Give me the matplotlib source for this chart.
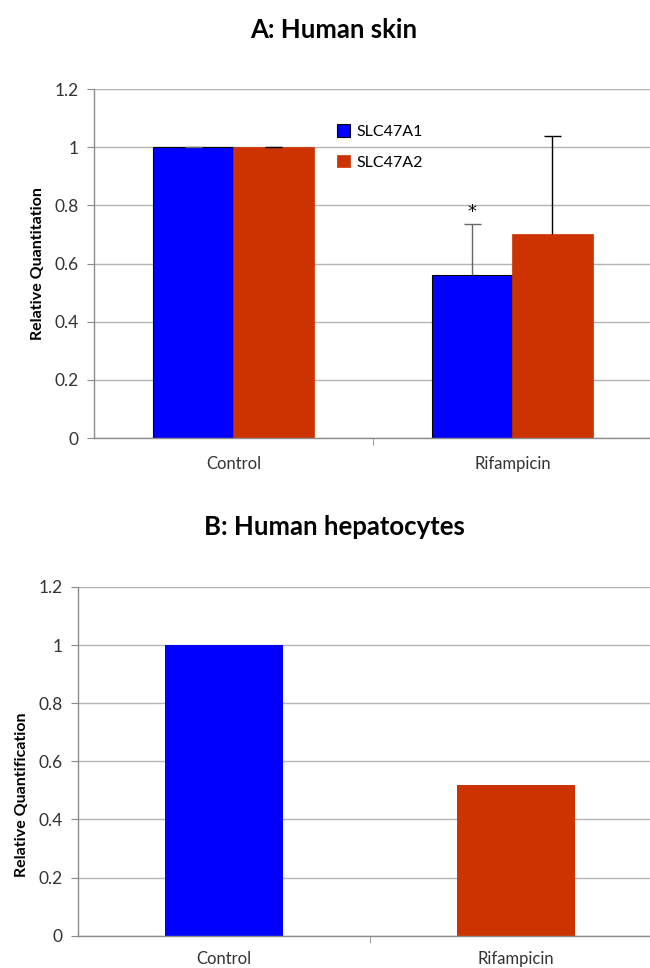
import numpy as np
import matplotlib
matplotlib.use("Agg")
import matplotlib.pyplot as plt

plt.rcParams["font.family"] = ["Lato", "DejaVu Sans"]

# ------------- Data -------------
categories = ["Control", "Rifampicin"]

# A: Human skin
skin_a1 = [1.0, 0.56]
skin_a2 = [1.0, 0.70]
skin_a1_err = [0.0, 0.176]
skin_a2_err = [0.0, 0.34]
series_names = ["SLC47A1", "SLC47A2"]

# B: Human hepatocytes
hep_values = [1.0, 0.52]

yticks = [0, 0.2, 0.4, 0.6, 0.8, 1.0, 1.2]
ytick_labels = ["0", "0.2", "0.4", "0.6", "0.8", "1", "1.2"]

BLUE = "#0000FF"
RED = "#CC3300"
GRID = "#b4b4b4"
SPINE = "#8c8c8c"


def style_axes(ax, xpad=12):
    ax.set_ylim(0, 1.2)
    ax.set_xlim(-0.5, 1.5)
    ax.set_yticks(yticks)
    ax.set_yticklabels(ytick_labels, fontsize=12.5, color="#333333")
    ax.yaxis.grid(True, color=GRID, linewidth=1.0)
    ax.set_axisbelow(True)
    for s in ["top", "right"]:
        ax.spines[s].set_visible(False)
    for s in ["left", "bottom"]:
        ax.spines[s].set_color(SPINE)
        ax.spines[s].set_linewidth(1.0)
    ax.tick_params(axis="y", length=5, color=SPINE, pad=6)
    ax.set_xticks([0, 1])
    ax.set_xticklabels(categories, fontsize=12, color="#333333")
    ax.tick_params(axis="x", which="major", length=0, pad=xpad)
    ax.set_xticks([0.5], minor=True)
    ax.tick_params(axis="x", which="minor", length=5, color=SPINE)


def up_errorbars(ax, xs, ys, errs, color):
    # upper-only error bars, cap at the top only (like Excel "plus")
    xs = np.asarray(xs)
    tops = np.asarray(ys) + np.asarray(errs)
    ax.vlines(xs, ys, tops, color=color, linewidth=1, zorder=3)
    ax.hlines(tops, xs - 0.03, xs + 0.03, color=color, linewidth=1, zorder=3)


fig = plt.figure(figsize=(6.5, 9.68), dpi=100)

# ------------- Panel A -------------
axA = fig.add_axes([0.1446, 0.5475, 0.8584, 0.3605])
x = np.arange(len(categories))
w = 0.287
axA.bar(x - w / 2, skin_a1, w, color=BLUE, edgecolor="black", linewidth=0.8,
        label=series_names[0], zorder=2)
axA.bar(x + w / 2, skin_a2, w, color=RED, edgecolor=RED, linewidth=0.5,
        label=series_names[1], zorder=2)
up_errorbars(axA, x - w / 2, skin_a1, skin_a1_err, "#666666")
up_errorbars(axA, x + w / 2, skin_a2, skin_a2_err, "black")
axA.text(x[1] - w / 2, skin_a1[1] + skin_a1_err[1] + 0.04, "*",
         ha="center", va="center", fontsize=13, family="DejaVu Sans")
style_axes(axA, xpad=13)
axA.legend(loc="upper left", bbox_to_anchor=(0.41, 0.94), frameon=False,
           fontsize=11.5, handlelength=0.8, handleheight=0.8,
           handletextpad=0.4, labelspacing=1.0)
fig.text(38 / 650, 1 - 264 / 968, "Relative Quantitation", rotation=90,
         ha="center", va="center", fontsize=11.5, fontweight="bold")
fig.text(0.514, 1 - 30 / 968, "A: Human skin", ha="center", va="center",
         fontsize=18.5, fontweight="bold")

# ------------- Panel B -------------
axB = fig.add_axes([0.12, 0.0334, 0.898, 0.3602])
axB.bar(x, hep_values, 0.404, color=[BLUE, RED], zorder=2)
style_axes(axB, xpad=11)
fig.text(22 / 650, 1 - 795 / 968, "Relative Quantification", rotation=90,
         ha="center", va="center", fontsize=11.5, fontweight="bold")
fig.text(0.514, 1 - 527 / 968, "B: Human hepatocytes", ha="center",
         va="center", fontsize=18.5, fontweight="bold")

fig.savefig("out.png", dpi=100)
